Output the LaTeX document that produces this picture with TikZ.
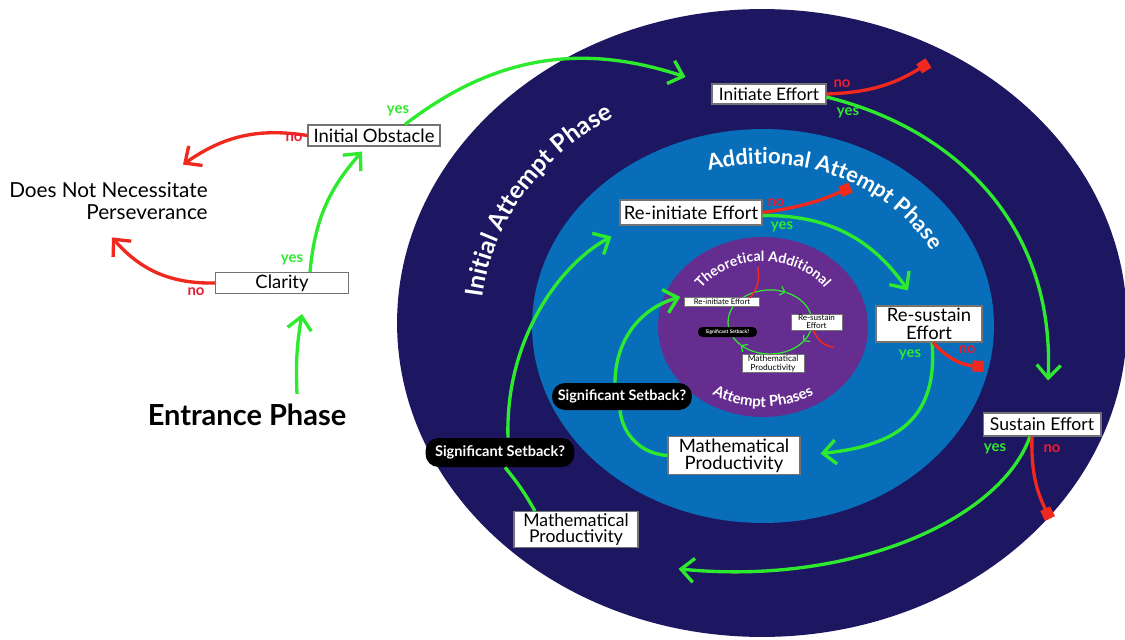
\documentclass[tikz,border=0pt]{standalone}
\usepackage{fontspec}
\setmainfont{Lato}
\usetikzlibrary{arrows.meta,positioning,calc,decorations.text}
\definecolor{ringnavy}{RGB}{29,22,96}
\definecolor{ringblue}{RGB}{8,110,185}
\definecolor{ringpurple}{RGB}{102,45,145}
\definecolor{yesgreen}{RGB}{46,234,46}
\definecolor{nored}{RGB}{240,40,30}
\definecolor{notext}{RGB}{230,30,50}
\tikzset{
stepbox/.style={
  draw=black!55,
  fill=white,
  line width=0.6pt,
  inner sep=1pt,
  align=center,
  text=black,
  font=\fontsize{10.5}{11.5}\selectfont
  },
tinybox/.style={stepbox, line width=0.3pt, inner sep=0.5pt},
setback/.style={fill=black, rounded corners=0.26cm, text=white, inner sep=1pt,
  font=\bfseries\fontsize{8.3}{9}\selectfont},
yesarrow/.style={yesgreen, line width=1.9pt, -{Straight Barb[length=2.6mm,width=4.8mm]}},
yesline/.style={yesgreen, line width=1.9pt},
noarrow/.style={nored, line width=1.9pt, -{Straight Barb[length=2.6mm,width=4.8mm]}},
nostop/.style={nored, line width=1.9pt, -{Square[length=2.2mm,width=2.2mm]}},
yeslabel/.style={text=yesgreen, inner sep=0pt, font=\bfseries\fontsize{8.5}{8.5}\selectfont},
nolabel/.style={text=notext, inner sep=0pt, font=\bfseries\fontsize{8.5}{8.5}\selectfont},
tinyloop/.style={yesgreen, line width=0.7pt, -{Straight Barb[length=0.9mm,width=1.8mm]}},
tinyno/.style={nored, line width=0.8pt},
ringtext/.style={decorate, decoration={text along path, text align=center, text={#1}}}
}

\begin{document}
\begin{tikzpicture}[x=0.02cm, y=0.02cm]
\useasboundingbox (0,0) rectangle (1125,-639);
\clip (0,0) rectangle (1125,-639);
\fill[white] (0,0) rectangle (1125,-639);

% the three phases
\coordinate (outring) at (762,-323);
\coordinate (midring) at (763,-326);
\coordinate (inring) at (763,-327);
\fill[ringnavy] (outring) ellipse[x radius=7.30cm, y radius=6.28cm];
\fill[ringblue] (midring) ellipse[x radius=4.62cm, y radius=3.94cm];
\fill[ringpurple] (inring) ellipse[x radius=2.10cm, y radius=1.80cm];

\path[ringtext={|\color{white}\bfseries\fontsize{14}{14}\selectfont|Initial Attempt Phase}]
  ($(outring)+(210:5.62cm and 4.84cm)$) arc[start angle=210, end angle=90, x radius=5.62cm, y radius=4.84cm];
\path[ringtext={|\color{white}\bfseries\fontsize{12.5}{12.5}\selectfont|Additional Attempt Phase}]
  ($(midring)+(160:3.80cm and 3.24cm)$) arc[start angle=160, end angle=-30, x radius=3.80cm, y radius=3.24cm];
\path[ringtext={|\color{white}\bfseries\fontsize{8}{8}\selectfont|Theoretical Additional}]
  ($(inring)+(175:1.53cm and 1.31cm)$) arc[start angle=175, end angle=5, x radius=1.53cm, y radius=1.31cm];
\path[ringtext={|\color{white}\bfseries\fontsize{8.5}{8.5}\selectfont|Attempt Phases}]
  ($(inring)+(195:1.87cm and 1.60cm)$) arc[start angle=195, end angle=345, x radius=1.87cm, y radius=1.60cm];

% theoretical loop (under its boxes)
\coordinate (tinyring) at (770,-322);
\draw[tinyloop] ($(tinyring)+(125:0.84cm and 0.64cm)$) arc[start angle=125, end angle=68, x radius=0.84cm, y radius=0.64cm];
\draw[tinyloop] ($(tinyring)+(68:0.84cm and 0.64cm)$) arc[start angle=68, end angle=-38, x radius=0.84cm, y radius=0.64cm];
\draw[tinyloop] ($(tinyring)+(-38:0.84cm and 0.64cm)$) arc[start angle=-38, end angle=-134, x radius=0.84cm, y radius=0.64cm];
\draw[tinyloop, -] ($(tinyring)+(-134:0.84cm and 0.64cm)$) arc[start angle=-134, end angle=-235, x radius=0.84cm, y radius=0.64cm];

% entrance phase
\node[stepbox, minimum width=2.64cm, minimum height=0.42cm] (obstacle) at (374,-135.5) {Initial Obstacle};
\node[stepbox, minimum width=2.66cm, minimum height=0.42cm] (clarity) at (282,-283) {Clarity};
\node[anchor=east, align=right, inner sep=0pt, font=\fontsize{11.8}{13}\selectfont] (dnnp) at (208,-201)
  {Does Not Necessitate\\Perseverance};
\node[inner sep=0pt, font=\bfseries\fontsize{16.5}{17}\selectfont] (entrance) at (247,-415) {Entrance Phase};

% initial attempt phase
\node[stepbox, minimum width=2.28cm, minimum height=0.40cm, font=\fontsize{9.8}{10.5}\selectfont] (initiate) at (769,-94) {Initiate Effort};
\node[stepbox, minimum width=2.36cm, minimum height=0.46cm, font=\fontsize{10}{11}\selectfont] (sustain) at (1042,-424.5) {Sustain Effort};
\node[stepbox, minimum width=2.48cm, minimum height=0.70cm, font=\fontsize{10}{9.2}\selectfont] (mpout) at (576,-529.5) {Mathematical\\Productivity};
\node[setback, minimum width=2.98cm, minimum height=0.58cm] (sbout) at (500,-452.5) {Significant Setback?};

% additional attempt phase
\node[stepbox, minimum width=2.84cm, minimum height=0.50cm, font=\fontsize{10.5}{11}\selectfont] (reinit) at (691,-212.5) {Re-initiate Effort};
\node[stepbox, minimum width=2.12cm, minimum height=0.72cm, font=\fontsize{10.5}{10}\selectfont] (resustain) at (929,-324) {Re-sustain\\Effort};
\node[stepbox, minimum width=2.64cm, minimum height=0.74cm, font=\fontsize{10.5}{9.8}\selectfont] (mpmid) at (734,-455.5) {Mathematical\\Productivity};
\node[setback, minimum width=2.80cm, minimum height=0.54cm, font=\bfseries\fontsize{8.2}{9}\selectfont] (sbmid) at (622,-396.5) {Significant Setback?};

% theoretical additional attempt phases
\node[tinybox, minimum width=1.50cm, minimum height=0.18cm, font=\fontsize{4.4}{4.6}\selectfont] (treinit) at (722,-302) {Re-initiate Effort};
\node[tinybox, minimum width=1.02cm, minimum height=0.32cm, font=\fontsize{4.6}{4.6}\selectfont] (tresustain) at (816.5,-322) {Re-sustain\\Effort};
\node[tinybox, minimum width=1.24cm, minimum height=0.34cm, font=\fontsize{4.8}{4.8}\selectfont] (tmp) at (773,-363.5) {Mathematical\\Productivity};
\node[setback, rounded corners=0.09cm, minimum width=1.18cm, minimum height=0.20cm, inner sep=0.3pt,
  font=\bfseries\fontsize{2.8}{3}\selectfont] (tsb) at (727.5,-332) {Significant Setback?};

% entrance connectors
\draw[yesarrow] ($(entrance)+(50,21)$) to[bend left=6] ($(clarity.south)+(20,-20)$);
\draw[yesarrow] ($(clarity.north)+(28,0)$) to[bend left=18] ($(obstacle.south)+(-12,-5)$);
\draw[noarrow] (clarity.west) to[bend left=25] ($(dnnp.south east)+(-96,-17)$);
\draw[noarrow] (obstacle.west) to[bend right=22] ($(dnnp.north east)+(-25,17)$);
\draw[yesarrow] ($(obstacle.north)+(31,0)$) to[bend left=28] ($(initiate.west)+(-26,17)$);
\node[nolabel] (obstacleno) at (294,-138) {no};
\node[yeslabel] (obstacleyes) at (398,-111) {yes};
\node[yeslabel] (clarityyes) at (292,-260) {yes};
\node[nolabel] (clarityno) at (196,-292) {no};

% initial attempt connectors
\draw[nostop] (initiate.east) to[bend right=15] ($(initiate.east)+(102,31)$);
\draw[yesarrow] ($(initiate.east)+(0,-3)$) .. controls +(134,-33) and +(7,151) .. ($(sustain.north)+(6,32)$);
\draw[yesarrow] ($(sustain.south)+(-12,0)$) .. controls +(-30,-84) and +(172,-17) .. ($(mpout.south east)+(40,-21)$);
\draw[nostop] ($(sustain.south)+(-10,0)$) to[bend right=14] ($(sustain.south)+(8,-82)$);
\draw[yesline] ($(mpout.north)+(-41,0)$) to[bend right=5] ($(sbout.south)+(5,0)$);
\draw[yesarrow] ($(sbout.north)+(8,0)$) .. controls +(-3,98) and +(-52,-28) .. ($(reinit.south west)+(-8,-11)$);
\node[nolabel] (initiateno) at (842,-84) {no};
\node[yeslabel] (initiateyes) at (848,-113) {yes};
\node[yeslabel] (sustainyes) at (995,-449) {yes};
\node[nolabel] (sustainno) at (1052,-449) {no};

% additional attempt connectors
\draw[nostop] (reinit.east) to[bend right=8] ($(reinit.east)+(88,25)$);
\draw[yesarrow] ($(reinit.east)+(0,-3)$) to[bend left=28] ($(resustain.north)+(-21,15)$);
\draw[yesarrow] ($(resustain.south)+(3,0)$) .. controls +(6,-73) and +(80,8) .. ($(mpmid.east)+(20,2)$);
\draw[nostop] ($(resustain.south)+(4,0)$) to[bend right=22] ($(resustain.south east)+(1,-24)$);
\draw[yesline] (mpmid.west) to[bend left=40] ($(sbmid.south)+(-2,0)$);
\draw[yesarrow] ($(sbmid.north)+(-7,0)$) to[bend left=37] ($(treinit.west)+(-4,5)$);
\node[nolabel] (reinitno) at (776,-203) {no};
\node[yeslabel] (reinityes) at (782,-227) {yes};
\node[yeslabel] (resustainyes) at (910,-355) {yes};
\node[nolabel] (resustainno) at (967,-350) {no};

% theoretical connectors
\draw[tinyno] ($(treinit.east)+(-10,4)$) to[bend right=25] ($(treinit.east)+(-2,35)$);
\draw[tinyno] ($(tresustain.south)+(-3,0)$) to[bend right=30] ($(tresustain.south)+(17,-17)$);

\end{tikzpicture}
\end{document}
